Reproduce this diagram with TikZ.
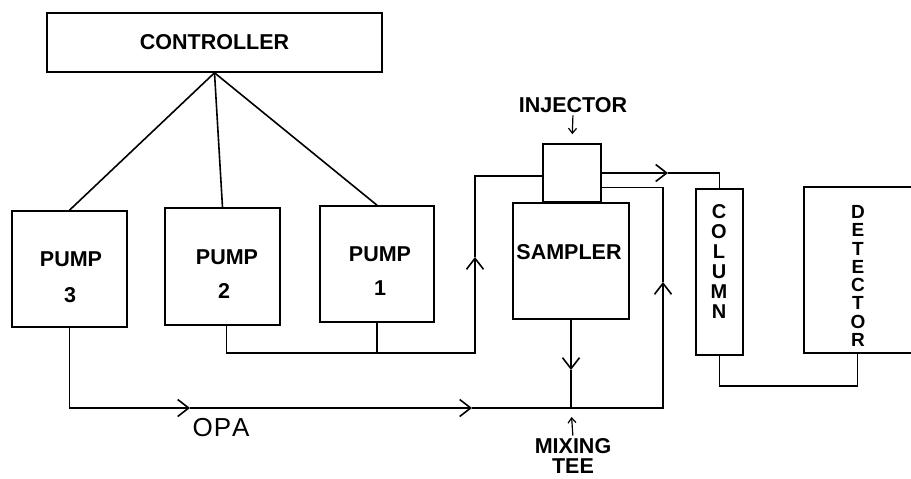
\documentclass[tikz,border=0pt]{standalone}
\usepackage{fontspec}
\setmainfont{Liberation Sans}
\usetikzlibrary{arrows.meta,calc}
\tikzset{
  box/.style={draw, line width=1.6pt, inner sep=0pt},
  lab/.style={font=\fontsize{21.5}{24}\selectfont\bfseries, inner sep=0pt},
  vlab/.style={font=\fontsize{20}{20}\selectfont\bfseries, inner sep=0pt, align=center},
  flow/.style={-{Straight Barb[length=11pt,width=17pt]}},
  small/.style={-{Straight Barb[length=5pt,width=8pt]}, line width=1.2pt}
}
\begin{document}
\begin{tikzpicture}[x=1pt,y=-1pt,line width=1.6pt]
\useasboundingbox (0,0) rectangle (911,479);
% boxes
\node[box, lab, minimum width=335pt, minimum height=59pt] (ctrl) at (214.5,42.5) {CONTROLLER};
\node[box, minimum width=115pt, minimum height=116pt] (p3) at (69.5,269) {};
\node[lab] (p3a) at (71,259) {PUMP};
\node[lab] (p3b) at (70,295) {3};
\node[box, minimum width=115pt, minimum height=117pt] (p2) at (222.5,266.5) {};
\node[lab] (p2a) at (227,257) {PUMP};
\node[lab] (p2b) at (224,291) {2};
\node[box, minimum width=114pt, minimum height=116pt] (p1) at (377,264) {};
\node[lab] (p1a) at (380,254) {PUMP};
\node[lab] (p1b) at (380,288) {1};
\node[box, minimum width=58pt, minimum height=58pt] (inj) at (572,173) {};
\node[box, minimum width=116pt, minimum height=116pt] (samp) at (571,261) {};
\node[lab] (sampt) at (569,252) {SAMPLER};
\node[box, minimum width=47pt, minimum height=166pt] (col) at (719.5,272) {};
\node[vlab] (colt) at (719,262) {C\\O\\L\\U\\M\\N};
\node[box, minimum width=216pt, minimum height=166pt] (det) at (912,270) {};
\node[vlab, font=\fontsize{19}{18.3}\selectfont\bfseries] (dett) at (858,276) {D\\E\\T\\E\\C\\T\\O\\R};
% labels
\node[lab] (injl) at (573,105) {INJECTOR};
\node[lab] (mix1) at (573,446) {MIXING};
\node[lab] (mix2) at (573,466) {TEE};
\node[font=\fontsize{26}{28}\selectfont, inner sep=0pt] (opa) at (221,428) {O\kern1pt P\kern1pt A};
% coordinates
\coordinate (mixtee) at (571,408);
\coordinate (opa1) at (190,408);
\coordinate (opa2) at (472,408);
\coordinate (j1) at (377,353);
\coordinate (lup) at (475,257);
\coordinate (rarr) at (663,282);
\coordinate (carr) at (668,173);
\coordinate (sarr) at (571,370);
\coordinate (injL) at ($(inj.north west)!0.55!(inj.south west)$);
\coordinate (injR) at ($(inj.north east)!0.74!(inj.south east)$);
\coordinate (detB) at ($(det.south west)!0.25!(det.south east)$);
% controller lines
\draw (ctrl.south) -- (p3.north);
\draw (ctrl.south) -- (p2.north);
\draw (ctrl.south) -- (p1.north);
% pump 1/2 line to injector
\draw ([xshift=4pt]p2.south) |- (j1);
\draw (p1.south) -- (j1);
\draw[flow] (j1) -| (lup);
\draw (lup) |- (injL);
% injector to column
\draw[flow] (inj.east) -- (carr);
\draw (carr) -| (col.north);
% column to detector
\draw (col.south) -- ++(0,30) -| (detB);
% OPA line
\draw[flow] (p3.south) |- (opa1);
\draw[flow] (opa1) -- (opa2);
\draw (opa2) -- (mixtee);
% sampler to mixing tee
\draw[flow] (samp.south) -- (sarr);
\draw (sarr) -- (mixtee);
% mixing tee back to injector
\draw[flow] (mixtee) -| (rarr);
\draw (rarr) |- (injR);
% label arrows
\draw[small, shorten <=2pt, shorten >=9pt] (injl.south) -- (inj.north);
\draw[small, shorten <=2pt, shorten >=9pt] (mix1.north) -- (mixtee);
\end{tikzpicture}
\end{document}
